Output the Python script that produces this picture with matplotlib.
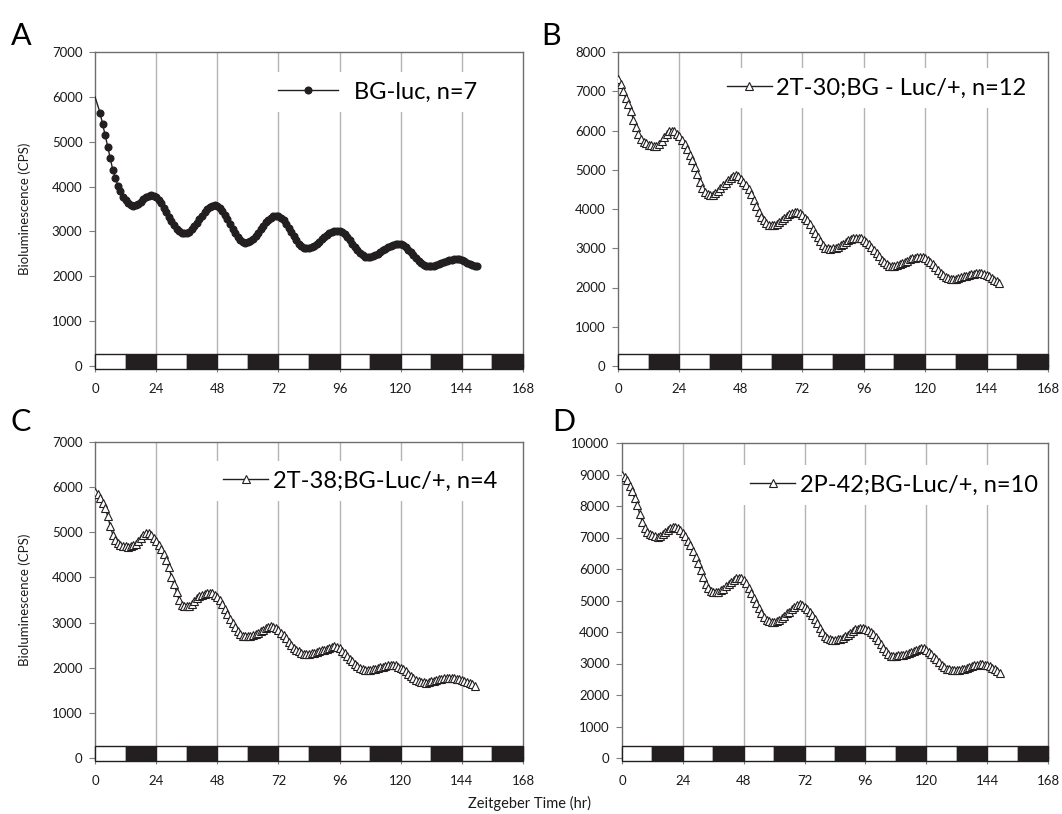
import matplotlib
matplotlib.use("Agg")
import matplotlib.pyplot as plt
from matplotlib.patches import Rectangle
import numpy as np

plt.rcParams['font.family'] = ['Lato', 'DejaVu Sans']

# hourly bioluminescence (CPS)
bg_luc = [6000, 5820, 5644, 5384, 5146, 4886, 4627, 4367, 4196, 4018,
          3892, 3773, 3690, 3625, 3585, 3572, 3580, 3610, 3660, 3715,
          3765, 3800, 3810, 3797, 3760, 3702, 3623, 3531, 3434, 3332,
          3235, 3143, 3064, 3006, 2969, 2956, 2967, 2998, 3048, 3114,
          3190, 3272, 3353, 3429, 3495, 3545, 3576, 3587, 3573, 3531,
          3465, 3377, 3276, 3167, 3059, 2958, 2870, 2804, 2762, 2748,
          2758, 2788, 2836, 2899, 2971, 3049, 3127, 3200, 3262, 3310,
          3340, 3350, 3338, 3301, 3244, 3168, 3080, 2986, 2892, 2804,
          2728, 2671, 2634, 2622, 2629, 2649, 2680, 2722, 2770, 2821,
          2872, 2920, 2962, 2993, 3013, 3020, 3010, 2980, 2934, 2873,
          2801, 2725, 2649, 2578, 2516, 2470, 2440, 2430, 2435, 2449,
          2472, 2503, 2538, 2575, 2612, 2648, 2678, 2701, 2715, 2720,
          2712, 2687, 2647, 2595, 2535, 2470, 2406, 2345, 2293, 2254,
          2229, 2220, 2223, 2233, 2248, 2268, 2291, 2314, 2337, 2357,
          2372, 2382, 2385, 2379, 2361, 2334, 2303, 2271, 2244, 2226,
          2220]

t30 = [7314, 7180, 7010, 6840, 6665, 6490, 6280, 6080, 5920, 5790,
       5710, 5670, 5640, 5619, 5600, 5593, 5650, 5740, 5830, 5910,
       5975, 6000, 5975, 5920, 5860, 5760, 5655, 5530, 5380, 5240,
       5070, 4880, 4700, 4540, 4430, 4385, 4365, 4365, 4400, 4460,
       4530, 4600, 4670, 4730, 4790, 4840, 4860, 4830, 4760, 4690,
       4600, 4500, 4370, 4220, 4080, 3930, 3800, 3710, 3640, 3600,
       3585, 3590, 3620, 3670, 3730, 3780, 3830, 3870, 3900, 3920,
       3930, 3890, 3840, 3780, 3710, 3610, 3500, 3400, 3290, 3180,
       3080, 3010, 2995, 2990, 2995, 3010, 3040, 3080, 3120, 3160,
       3200, 3235, 3255, 3268, 3270, 3255, 3220, 3170, 3110, 3040,
       2960, 2880, 2790, 2710, 2640, 2590, 2560, 2548, 2552, 2565,
       2590, 2620, 2650, 2685, 2715, 2740, 2760, 2770, 2772, 2765,
       2740, 2700, 2650, 2590, 2520, 2450, 2380, 2320, 2270, 2240,
       2225, 2220, 2225, 2240, 2260, 2285, 2305, 2325, 2342, 2355,
       2365, 2369, 2365, 2350, 2325, 2290, 2250, 2200, 2160, 2120]

t38 = [5890, 5840, 5760, 5650, 5535, 5360, 5130, 4950, 4840, 4770,
       4725, 4700, 4690, 4680, 4690, 4710, 4740, 4800, 4880, 4950,
       4990, 4995, 4950, 4880, 4800, 4720, 4640, 4520, 4380, 4220,
       4020, 3850, 3680, 3500, 3400, 3366, 3360, 3370, 3420, 3480,
       3540, 3580, 3610, 3640, 3660, 3665, 3650, 3620, 3570, 3500,
       3410, 3310, 3200, 3090, 2990, 2900, 2810, 2740, 2700, 2695,
       2700, 2710, 2730, 2755, 2780, 2805, 2840, 2875, 2900, 2915,
       2905, 2880, 2840, 2780, 2720, 2650, 2570, 2500, 2440, 2400,
       2370, 2330, 2305, 2300, 2305, 2315, 2330, 2350, 2370, 2385,
       2400, 2420, 2445, 2465, 2475, 2460, 2430, 2380, 2320, 2260,
       2200, 2140, 2090, 2040, 2000, 1970, 1955, 1950, 1955, 1965,
       1980, 1995, 2010, 2025, 2040, 2055, 2065, 2068, 2050, 2025,
       2000, 1965, 1925, 1870, 1815, 1770, 1730, 1700, 1685, 1675,
       1672, 1680, 1695, 1710, 1725, 1740, 1752, 1762, 1770, 1775,
       1775, 1770, 1760, 1745, 1730, 1710, 1690, 1670, 1640, 1600]

p42 = [8980, 8930, 8830, 8650, 8470, 8260, 8020, 7750, 7500, 7310,
       7190, 7120, 7070, 7040, 7030, 7060, 7100, 7180, 7250, 7300,
       7335, 7345, 7300, 7230, 7140, 7040, 6900, 6750, 6570, 6380,
       6180, 5970, 5740, 5520, 5390, 5310, 5270, 5255, 5270, 5320,
       5370, 5450, 5530, 5600, 5660, 5710, 5730, 5700, 5640, 5540,
       5410, 5240, 5070, 4930, 4750, 4600, 4470, 4390, 4340, 4320,
       4320, 4340, 4380, 4450, 4520, 4590, 4650, 4720, 4790, 4850,
       4880, 4860, 4800, 4730, 4640, 4540, 4410, 4270, 4130, 3990,
       3880, 3810, 3770, 3750, 3755, 3770, 3790, 3815, 3860, 3920,
       3980, 4030, 4080, 4110, 4130, 4120, 4090, 4050, 4010, 3940,
       3850, 3750, 3630, 3500, 3390, 3300, 3250, 3235, 3240, 3255,
       3270, 3285, 3310, 3340, 3370, 3400, 3440, 3470, 3490, 3480,
       3430, 3370, 3300, 3220, 3130, 3040, 2950, 2880, 2840, 2810,
       2795, 2790, 2795, 2805, 2820, 2840, 2860, 2880, 2910, 2940,
       2965, 2975, 2980, 2965, 2940, 2910, 2870, 2820, 2760, 2690]

labels = ['BG-luc, n=7', '2T-30;BG - Luc/+, n=12',
          '2T-38;BG-Luc/+, n=4', '2P-42;BG-Luc/+, n=10']
letters = ['A', 'B', 'C', 'D']
ymaxes = [7000, 8000, 7000, 10000]
xticks = [0, 24, 48, 72, 96, 120, 144, 168]
ld_phase = ['L', 'D'] * 7  # 12 h light / 12 h dark

fig = plt.figure(figsize=(10.62, 8.14), dpi=100)
W, H = 1062, 814
boxes = [(95, 52, 428, 314), (618, 52, 430, 314),
         (95, 442, 428, 316), (622, 443, 426, 315)]
leg_pos = [(0.915, 0.873), (0.972, 0.885), (0.962, 0.877), (0.998, 0.867)]
handle_len = [2.5, 1.9, 1.9, 1.9]
text_pad = [0.7, 0.2, 0.2, 0.2]
letter_pos = [(11, 22), (541, 22), (10, 408), (552, 408)]

for i, vals in enumerate([bg_luc, t30, t38, p42]):
    l, t, w, h = boxes[i]
    ax = fig.add_axes([l / W, 1 - (t + h) / H, w / W, h / H])
    hrs = np.arange(len(vals))
    if i == 0:
        ax.plot(hrs, vals, color='#231f20', lw=1, marker='o', ms=4.8,
                mfc='#231f20', mec='#231f20', markevery=slice(2, None),
                label=labels[i], zorder=3)
    else:
        ax.plot(hrs, vals, color='#231f20', lw=1, marker='^', ms=5.4,
                mfc='white', mec='#231f20', mew=0.8,
                label=labels[i], zorder=3)

    ax.set_xlim(0, 168)
    ax.set_ylim(0, ymaxes[i])
    ax.set_xticks(xticks)
    ax.set_yticks(np.arange(0, ymaxes[i] + 1, 1000))
    ax.tick_params(axis='both', labelsize=9.5, length=4, color='#7f7f7f',
                   labelcolor='#1a1a1a')
    ax.tick_params(axis='x', pad=8)
    ax.tick_params(axis='y', pad=5)
    for xg in xticks[1:-1]:
        ax.axvline(xg, color='#b3b3b3', lw=1, zorder=1)
    for s in ax.spines.values():
        s.set_color('#6e6e6e')
        s.set_linewidth(1)

    # light/dark bar along the bottom
    trans = ax.get_xaxis_transform()
    for k, ph in enumerate(ld_phase):
        ax.add_patch(Rectangle((12 * k, -0.008), 12, 0.045, transform=trans,
                               facecolor='white' if ph == 'L' else '#231f20',
                               edgecolor='#231f20', lw=1, zorder=4,
                               clip_on=False))

    leg = ax.legend(loc='center right', bbox_to_anchor=leg_pos[i],
                    borderaxespad=0, fontsize=17, frameon=True,
                    fancybox=False, handlelength=handle_len[i],
                    handletextpad=text_pad[i], borderpad=0.4)
    leg.get_frame().set_facecolor('white')
    leg.get_frame().set_edgecolor('none')
    leg.get_frame().set_alpha(1)

    if i in (0, 2):
        ax.set_ylabel('Bioluminescence (CPS)', fontsize=9.5, color='#1a1a1a')
        ax.yaxis.set_label_coords(-0.15, 0.5)

    lx, ly = letter_pos[i]
    fig.text(lx / W, 1 - ly / H, letters[i], fontsize=22, va='top', ha='left')

fig.text(530 / W, 11 / H, 'Zeitgeber Time (hr)', fontsize=10.5,
         ha='center', va='center', color='#1a1a1a')

fig.savefig('out.png', dpi=100)
